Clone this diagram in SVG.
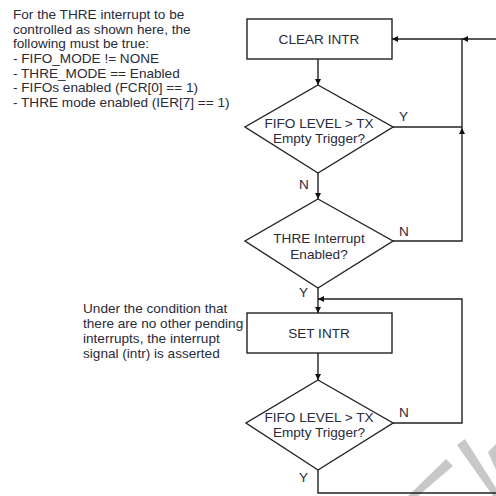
<svg xmlns="http://www.w3.org/2000/svg" width="496" height="496" viewBox="0 0 496 496">
<defs>
<style>
.t{font-family:"Liberation Sans",Arial,sans-serif;font-size:13.6px;fill:#2a2a3a}
.c{text-anchor:middle}
.s{fill:#fff;stroke:#222;stroke-width:1.4}
.ln{fill:none;stroke:#222;stroke-width:1.4}
.ah{fill:#111}
.wm{fill:#c8c8c8}
</style>
<marker id="arr" viewBox="0 0 10 10" refX="10" refY="5" markerWidth="6" markerHeight="6" markerUnits="userSpaceOnUse" orient="auto"><path d="M0,0 L10,5 L0,10 z" class="ah"/></marker>
</defs>
<rect width="496" height="496" fill="#fff"/>
<g id="watermark">
<polygon class="wm" points="408,496 418,496 453,466 446,459"/>
<polygon class="wm" points="457,445 465,439 496,488 496,496 493,496"/>
<polygon class="wm" points="488,452 496,444 496,470"/>
</g>
<g id="note1" class="t">
<text x="13" y="19">For the THRE interrupt to be</text>
<text x="13" y="34">controlled as shown here, the</text>
<text x="13" y="48">following must be true:</text>
<text x="13" y="63">- FIFO_MODE != NONE</text>
<text x="13" y="78">- THRE_MODE == Enabled</text>
<text x="13" y="92">- FIFOs enabled (FCR[0] == 1)</text>
<text x="13" y="107">- THRE mode enabled (IER[7] == 1)</text>
</g>
<g id="note2" class="t">
<text x="83" y="313">Under the condition that</text>
<text x="83" y="328">there are no other pending</text>
<text x="83" y="343">interrupts, the interrupt</text>
<text x="83" y="358">signal (intr) is asserted</text>
</g>
<g id="connectors">
<path class="ln" d="M318,59 V85" marker-end="url(#arr)"/>
<path class="ln" d="M318,173 V199" marker-end="url(#arr)"/>
<path class="ln" d="M393,127 H462"/>
<path class="ln" d="M393,241 H462 V128" marker-end="url(#arr)"/>
<path class="ln" d="M462,128 V39 H392" marker-end="url(#arr)"/>
<path class="ln" d="M496,39 H462" marker-end="url(#arr)"/>
<path class="ln" d="M318,288 V313" marker-end="url(#arr)"/>
<path class="ln" d="M393,423 H462 V299 H318" marker-end="url(#arr)"/>
<path class="ln" d="M318,353 V380" marker-end="url(#arr)"/>
<path class="ln" d="M318,470 V493 H496"/>
</g>
<g id="clear-intr">
<rect class="s" x="247" y="19" width="145" height="40"/>
<text class="t c" x="319" y="44">CLEAR INTR</text>
</g>
<g id="decision1">
<polygon class="s" points="318,85 393,127 318,173 245,127"/>
<text class="t c" x="319" y="128">FIFO LEVEL &gt; TX</text>
<text class="t c" x="319" y="143">Empty Trigger?</text>
<text class="t" x="399" y="121">Y</text>
<text class="t" x="299" y="189">N</text>
</g>
<g id="decision2">
<polygon class="s" points="318,199 393,241 318,288 245,241"/>
<text class="t c" x="319" y="243">THRE Interrupt</text>
<text class="t c" x="319" y="259">Enabled?</text>
<text class="t" x="399" y="236">N</text>
<text class="t" x="299" y="297">Y</text>
</g>
<g id="set-intr">
<rect class="s" x="247" y="313" width="145" height="40"/>
<text class="t c" x="319" y="338">SET INTR</text>
</g>
<g id="decision3">
<polygon class="s" points="318,380 393,423 318,470 246,423"/>
<text class="t c" x="319" y="422">FIFO LEVEL &gt; TX</text>
<text class="t c" x="319" y="437">Empty Trigger?</text>
<text class="t" x="399" y="417">N</text>
<text class="t" x="299" y="482">Y</text>
</g>
</svg>
